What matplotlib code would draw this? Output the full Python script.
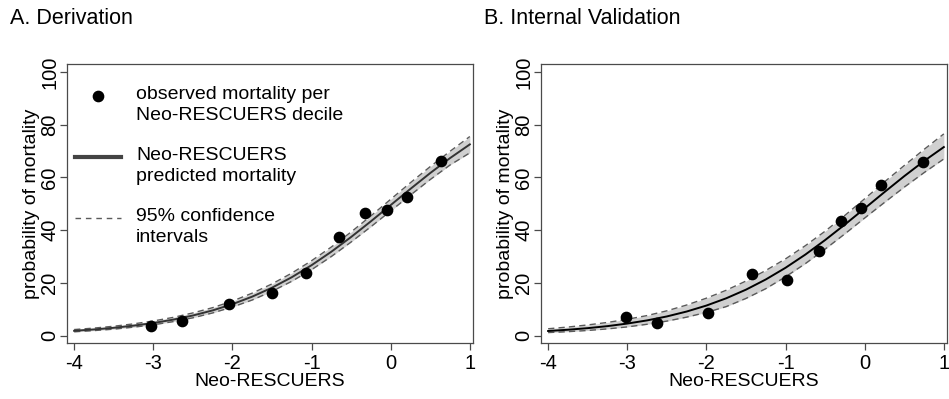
import matplotlib
matplotlib.use("Agg")
import matplotlib.pyplot as plt
from matplotlib.legend_handler import HandlerLine2D
from matplotlib.lines import Line2D
import numpy as np

plt.rcParams['font.family'] = ['Liberation Sans', 'DejaVu Sans']

# ---- data ----
curve_x = [-4, -3.75, -3.5, -3.25, -3, -2.75, -2.5, -2.25, -2, -1.75, -1.5,
           -1.25, -1, -0.75, -0.5, -0.25, 0, 0.25, 0.5, 0.75, 1]

# A. Derivation
deriv_pred = [1.83, 2.34, 2.97, 3.78, 4.78, 6.05, 7.62, 9.56, 11.92, 14.78, 18.17,
              22.14, 26.70, 31.81, 37.40, 43.35, 49.50, 55.66, 61.66, 67.32, 72.51]
deriv_upper = [2.3, 2.85, 3.55, 4.45, 5.55, 6.9, 8.6, 10.6, 13.1, 16.1, 19.6,
               23.7, 28.4, 33.6, 39.3, 45.4, 51.7, 58.0, 64.1, 69.9, 75.5]
deriv_lower = [1.45, 1.9, 2.45, 3.2, 4.1, 5.3, 6.75, 8.6, 10.85, 13.5, 16.8,
               20.6, 25.0, 30.0, 35.5, 41.3, 47.3, 53.3, 59.2, 64.7, 69.3]
deriv_obs_x = [-3.03, -2.64, -2.04, -1.50, -1.07, -0.65, -0.32, -0.05, 0.20, 0.64]
deriv_obs_y = [3.7, 5.6, 11.9, 16.3, 23.9, 37.3, 46.6, 47.8, 52.5, 66.2]

# B. Internal Validation
valid_pred = [1.75, 2.23, 2.83, 3.60, 4.57, 5.77, 7.27, 9.13, 11.40, 14.15, 17.43,
              21.29, 25.73, 30.73, 36.24, 42.13, 48.25, 54.43, 60.47, 66.21, 71.50]
valid_upper = [2.6, 3.25, 4.05, 5.0, 6.2, 7.6, 9.4, 11.6, 14.2, 17.2, 20.7,
               24.7, 29.1, 34.1, 39.6, 45.6, 51.9, 58.3, 64.5, 70.6, 76.5]
valid_lower = [1.15, 1.5, 1.95, 2.55, 3.3, 4.3, 5.5, 7.0, 8.8, 11.0, 14.1,
               17.8, 22.3, 27.3, 32.8, 38.6, 44.6, 50.5, 56.3, 61.8, 67.0]
valid_obs_x = [-3.01, -2.62, -1.98, -1.43, -0.98, -0.58, -0.30, -0.05, 0.21, 0.74]
valid_obs_y = [7.1, 4.8, 8.7, 23.4, 21.2, 32.0, 43.5, 48.5, 57.0, 65.7]

x_ticks = [-4, -3, -2, -1, 0, 1]
x_ticklabels = ['-4', '-3', '-2', '-1', '0', '1']
y_ticks = [0, 20, 40, 60, 80, 100]
y_ticklabels = ['0', '20', '40', '60', '80', '100']

panel_titles = ['A. Derivation', 'B. Internal Validation']
legend_labels = ['observed mortality per\nNeo-RESCUERS decile',
                 'Neo-RESCUERS\npredicted mortality',
                 '95% confidence\nintervals']


class ShiftedHandler(HandlerLine2D):
    def __init__(self, shift=0.0, **kw):
        super().__init__(**kw)
        self.shift = shift

    def create_artists(self, legend, orig_handle, xdescent, ydescent, width,
                       height, fontsize, trans):
        arts = super().create_artists(legend, orig_handle, xdescent, ydescent,
                                      width, height, fontsize, trans)
        for a in arts:
            a.set_ydata(np.asarray(a.get_ydata()) + self.shift * fontsize)
        return arts


FS = 14
TICK_FS = 14.5

fig = plt.figure(figsize=(9.49, 3.99), dpi=100)
ax1 = fig.add_axes([67/949, 56/399, 406/949, 279/399])
ax2 = fig.add_axes([541/949, 56/399, 406/949, 279/399])

spine_col = '#4a4a4a'
band_col = '#d0d0d0'
dash_col = '#5a5a5a'

panels = [
    (ax1, deriv_pred, deriv_upper, deriv_lower, deriv_obs_x, deriv_obs_y, '#333333'),
    (ax2, valid_pred, valid_upper, valid_lower, valid_obs_x, valid_obs_y, '#000000'),
]

for ax, pred, up, lo, ox, oy, lc in panels:
    ax.fill_between(curve_x, lo, up, color=band_col, lw=0, zorder=1)
    ax.plot(curve_x, up, color=dash_col, lw=1.0, ls=(0, (4.5, 3)), zorder=2)
    ax.plot(curve_x, lo, color=dash_col, lw=1.0, ls=(0, (4.5, 3)), zorder=2)
    ax.plot(curve_x, pred, color=lc, lw=1.4, zorder=3)
    ax.plot(ox, oy, 'o', color='black', ms=7.4, zorder=4)
    ax.set_xlim(-4.09, 1.04)
    ax.set_ylim(-2.8, 103.0)
    ax.set_xticks(x_ticks)
    ax.set_xticklabels(x_ticklabels, fontsize=TICK_FS)
    ax.set_yticks(y_ticks)
    ax.set_yticklabels(y_ticklabels, fontsize=TICK_FS, rotation=90, va='center')
    ax.tick_params(direction='out', length=5, width=0.9, color=spine_col)
    ax.tick_params(axis='x', pad=3)
    ax.tick_params(axis='y', pad=0.5)
    for s in ax.spines.values():
        s.set_color(spine_col)
        s.set_linewidth(0.9)
    ax.set_xlabel('Neo-RESCUERS', fontsize=FS, labelpad=0)
    ax.set_ylabel('probability of mortality', fontsize=FS, labelpad=0)

handles = [
    Line2D([], [], ls='none', marker='o', color='black', ms=7.4),
    Line2D([], [], color='#444444', lw=3),
    Line2D([], [], color=dash_col, lw=1.0, ls=(0, (4, 3.5))),
]
leg = ax1.legend(handles, legend_labels, loc='upper left',
                 bbox_to_anchor=(0.0, 0.95), frameon=False, fontsize=FS,
                 handlelength=2.4, handletextpad=0.75, labelspacing=1.2,
                 borderaxespad=0.2, borderpad=0.2,
                 handler_map={h: ShiftedHandler(shift=0.45) for h in handles})
for t in leg.get_texts():
    t.set_linespacing(1.3)

fig.text(10/949, 1 - 19/399, panel_titles[0], fontsize=15.5, va='center', ha='left')
fig.text(484/949, 1 - 19/399, panel_titles[1], fontsize=15.5, va='center', ha='left')

fig.savefig('out.png', dpi=100)
